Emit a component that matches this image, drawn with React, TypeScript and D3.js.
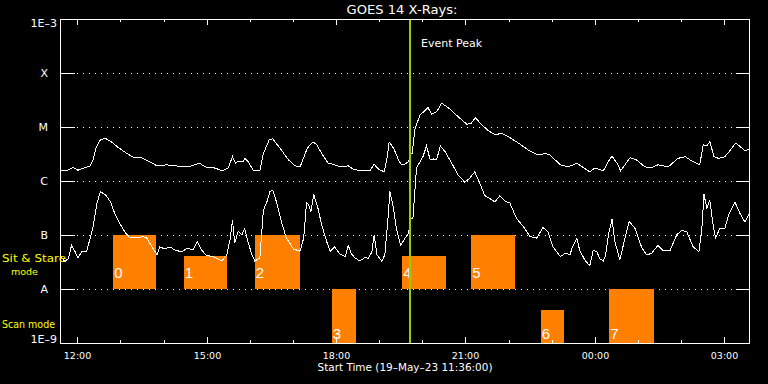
import React from "react";
import * as d3 from "d3";

const START = Date.UTC(2023, 4, 19, 11, 36, 0);
const SPAN_HOURS = 16;

// GOES long channel (1-8 Å): [minutes after start, log10 flux W/m²]
const longChannel: [number, number][] = [
  [0,-5.80],[9,-5.81],[18,-5.75],[25,-5.80],[35,-5.75],[42,-5.72],[46,-5.61],[50,-5.39],[56,-5.24],[63,-5.21],
  [70,-5.26],[81,-5.38],[93,-5.49],[102,-5.56],[114,-5.57],[123,-5.63],[135,-5.72],[148,-5.70],[162,-5.72],[172,-5.74],
  [183,-5.72],[194,-5.67],[202,-5.74],[213,-5.75],[226,-5.81],[234,-5.76],[240,-5.55],[244,-5.67],[248,-5.63],[255,-5.63],
  [257,-5.58],[262,-5.64],[269,-5.81],[278,-5.81],[283,-5.49],[291,-5.24],[296,-5.22],[306,-5.39],[318,-5.61],[327,-5.72],
  [334,-5.74],[343,-5.43],[346,-5.36],[352,-5.28],[357,-5.32],[364,-5.49],[373,-5.67],[380,-5.69],[390,-5.74],[401,-5.72],
  [408,-5.78],[417,-5.81],[431,-5.81],[437,-5.69],[443,-5.78],[451,-5.83],[455,-5.58],[458,-5.28],[464,-5.39],[471,-5.61],
  [475,-5.70],[480,-5.69],[485,-5.64],[488,-5.49],[490,-5.49],[494,-5.02],[501,-4.78],[512,-4.64],[517,-4.76],[524,-4.72],
  [531,-4.56],[540,-4.64],[554,-4.81],[566,-4.95],[572,-4.93],[578,-4.83],[587,-4.96],[596,-5.07],[605,-5.14],[615,-5.12],
  [624,-5.18],[638,-5.30],[652,-5.43],[661,-5.49],[665,-5.52],[675,-5.49],[682,-5.52],[696,-5.70],[707,-5.74],[719,-5.67],
  [728,-5.75],[737,-5.83],[744,-5.76],[756,-5.81],[763,-5.64],[768,-5.54],[775,-5.67],[780,-5.81],[786,-5.70],[793,-5.57],
  [802,-5.61],[814,-5.74],[823,-5.75],[832,-5.70],[846,-5.74],[860,-5.58],[870,-5.55],[879,-5.63],[890,-5.70],[895,-5.33],
  [900,-5.35],[904,-5.27],[910,-5.55],[916,-5.58],[925,-5.55],[932,-5.44],[940,-5.30],[946,-5.36],[953,-5.44],[960,-5.41],
];

// GOES short channel (0.5-4 Å)
const shortChannel: [number, number][] = [
  [0,-7.39],[7,-7.49],[12,-7.43],[16,-7.19],[21,-7.31],[25,-7.43],[30,-7.31],[37,-7.30],[42,-7.06],[46,-6.85],
  [51,-6.44],[56,-6.20],[63,-6.25],[70,-6.38],[77,-6.63],[83,-6.78],[90,-6.94],[97,-7.05],[107,-7.05],[116,-7.03],
  [121,-7.06],[128,-7.22],[135,-7.36],[139,-7.22],[146,-7.26],[153,-7.22],[160,-7.28],[169,-7.31],[178,-7.24],[185,-7.28],
  [191,-7.12],[197,-7.28],[204,-7.38],[213,-7.40],[225,-7.48],[232,-7.37],[237,-7.06],[240,-6.72],[243,-7.15],[248,-6.93],
  [253,-7.00],[257,-6.88],[262,-7.15],[267,-7.36],[271,-7.48],[278,-7.43],[283,-6.54],[288,-6.38],[292,-6.20],[296,-6.17],
  [301,-6.38],[308,-6.75],[315,-7.06],[325,-7.26],[334,-7.30],[339,-7.06],[343,-6.41],[346,-6.44],[349,-6.57],[353,-6.25],
  [359,-6.51],[364,-6.81],[371,-7.12],[376,-7.30],[382,-7.22],[390,-7.36],[397,-7.40],[401,-7.19],[405,-7.34],[410,-7.42],
  [417,-7.48],[424,-7.42],[429,-7.43],[434,-7.31],[437,-7.00],[441,-7.37],[448,-7.49],[452,-7.36],[456,-6.75],[459,-6.19],
  [464,-6.51],[468,-6.88],[474,-7.19],[480,-7.06],[485,-6.97],[488,-6.69],[491,-6.69],[496,-5.76],[501,-5.64],[505,-5.55],
  [510,-5.35],[515,-5.61],[519,-5.59],[524,-5.61],[529,-5.35],[536,-5.46],[545,-5.67],[554,-5.89],[563,-6.02],[570,-5.95],
  [577,-5.83],[584,-6.04],[591,-6.27],[601,-6.35],[605,-6.39],[612,-6.27],[619,-6.37],[626,-6.41],[635,-6.69],[645,-6.85],
  [654,-7.03],[663,-7.06],[672,-6.86],[679,-6.94],[686,-7.22],[696,-7.40],[703,-7.34],[710,-7.36],[712,-7.25],[719,-7.06],
  [723,-7.28],[730,-7.46],[737,-7.57],[742,-7.28],[747,-7.31],[751,-7.44],[756,-7.48],[759,-7.38],[763,-7.00],[768,-6.71],
  [772,-7.12],[779,-7.46],[785,-7.12],[792,-6.75],[800,-6.88],[809,-7.22],[816,-7.37],[823,-7.34],[832,-7.19],[839,-7.29],
  [849,-7.28],[858,-7.00],[865,-6.91],[872,-6.94],[881,-7.22],[889,-7.31],[893,-6.88],[896,-6.25],[900,-6.51],[904,-6.35],
  [908,-6.75],[912,-7.06],[918,-6.88],[925,-6.88],[931,-6.60],[939,-6.39],[946,-6.60],[953,-6.76],[960,-6.57],
];

// Observation blocks: start/end (minutes after start), mode, top (log10 flux)
const blockIds = ["0", "1", "2", "3", "4", "5", "6", "7"];
const blockStart = [74, 172, 271, 378, 476, 572, 669, 764];
const blockEnd = [134, 233, 334, 412, 537, 633, 701, 826];
const blockMode = ["stare", "stare", "stare", "scan", "stare", "stare", "scan", "scan"];
const blockTop = [-7, -7.39, -7, -8, -7.39, -7, -8.39, -8];

const classLevels = [-4, -5, -6, -7, -8];
const classLabels = ["X", "M", "C", "B", "A"];
const edgeLabels = ["1E-3", "1E-9"];

const eventPeakMin = 487;
const titleText = "GOES 14 X-Rays:";
const xTitle = "Start Time (19-May-23 11:36:00)";

const W = 768, H = 384;
const L = 60, R = 750, T = 19, B = 343;

export default function App() {
  const t = (m: number) => new Date(START + m * 60000);
  const x = d3.scaleUtc().domain([t(0), t(SPAN_HOURS * 60)]).range([L, R]);
  const y = d3.scaleLog().domain([1e-9, 1e-3]).range([B, T]);
  const line = d3
    .line<[number, number]>()
    .x((d) => x(t(d[0])))
    .y((d) => y(Math.pow(10, d[1])));

  const hourTicks = x.ticks(d3.utcHour.every(1)!);
  const font = "DejaVu Sans, sans-serif";
  const fmt = d3.utcFormat("%H:%M");

  return (
    <svg
      width={W}
      height={H}
      style={{ position: "fixed", left: 0, top: 0, background: "#000" }}
      fontFamily={font}
    >
      <rect x={0} y={0} width={W} height={H} fill="#000" />
      {/* grid lines */}
      {classLevels.map((lv) => {
        const yy = Math.round(y(Math.pow(10, lv))) + 0.5;
        return (
          <g key={lv} shapeRendering="crispEdges">
            <line x1={L} x2={75} y1={yy} y2={yy} stroke="#fff" strokeWidth={1} />
            <line x1={77} x2={735} y1={yy} y2={yy} stroke="#fff" strokeWidth={1} strokeDasharray="1,5" />
            <line x1={736} x2={R} y1={yy} y2={yy} stroke="#fff" strokeWidth={1} />
          </g>
        );
      })}
      {/* blocks */}
      {blockIds.map((id, i) => {
        const x0 = x(t(blockStart[i]));
        const x1 = x(t(blockEnd[i]));
        const bottom = blockMode[i] === "stare" ? -8 : -9;
        const y0 = y(Math.pow(10, blockTop[i]));
        const y1 = y(Math.pow(10, bottom));
        return (
          <g key={id}>
            <rect x={x0} y={y0} width={x1 - x0} height={y1 - y0} fill="#ff8000" shapeRendering="crispEdges" />
            <text
              x={x0 + 1}
              y={blockMode[i] === "stare" ? y1 - 11 : y1 - 4}
              fill="#fff"
              fontSize={15}
              fontFamily="Liberation Sans, sans-serif"
            >
              {id}
            </text>
          </g>
        );
      })}
      {/* curves */}
      <path d={line(longChannel) || ""} fill="none" stroke="#fff" strokeWidth={1} shapeRendering="crispEdges" />
      <path d={line(shortChannel) || ""} fill="none" stroke="#fff" strokeWidth={1} shapeRendering="crispEdges" />
      {/* event peak */}
      <line
        x1={x(t(eventPeakMin))}
        x2={x(t(eventPeakMin))}
        y1={T}
        y2={B}
        stroke="#99cc00"
        strokeWidth={2}
        shapeRendering="crispEdges"
      />
      <text x={421} y={46.5} fill="#fff" fontSize={11}>
        Event Peak
      </text>
      {/* frame */}
      <rect x={L + 0.5} y={T + 0.5} width={R - L - 1} height={B - T} fill="none" stroke="#fff" strokeWidth={1} shapeRendering="crispEdges" />
      {/* x ticks */}
      {hourTicks.map((d, i) => {
        const xx = Math.round(x(d)) + 0.5;
        const major = d.getUTCHours() % 3 === 0;
        const len = major ? 6 : 3;
        return (
          <g key={i} shapeRendering="crispEdges">
            <line x1={xx} x2={xx} y1={B} y2={B - len} stroke="#fff" />
            <line x1={xx} x2={xx} y1={T} y2={T + len} stroke="#fff" />
            {major && (
              <text x={xx} y={359} fill="#fff" fontSize={9.5} textAnchor="middle">
                {fmt(d)}
              </text>
            )}
          </g>
        );
      })}
      {/* y labels */}
      {classLevels.map((lv, i) => (
        <text key={lv} x={48} y={y(Math.pow(10, lv)) + 4} fill="#fff" fontSize={11} textAnchor="end">
          {classLabels[i]}
        </text>
      ))}
      <text x={57} y={27} fill="#fff" fontSize={11} textAnchor="end">
        {edgeLabels[0].replace("-", "\u2013")}
      </text>
      <text x={57} y={343} fill="#fff" fontSize={11} textAnchor="end">
        {edgeLabels[1].replace("-", "\u2013")}
      </text>
      {/* mode labels */}
      <text x={2} y={262} fill="#ffff00" fontSize={10} textLength={64} lengthAdjust="spacingAndGlyphs">
        Sit &amp; Stare
      </text>
      <text x={11} y={275} fill="#ffff00" fontSize={9.5}>
        mode
      </text>
      <text x={2} y={328} fill="#ffff00" fontSize={10} textLength={53} lengthAdjust="spacingAndGlyphs">
        Scan mode
      </text>
      {/* titles */}
      <text x={402} y={14} fill="#fff" fontSize={12.5} textAnchor="middle" textLength={111} lengthAdjust="spacingAndGlyphs">
        {titleText}
      </text>
      <text x={405} y={371} fill="#fff" fontSize={10} textAnchor="middle" textLength={175} lengthAdjust="spacingAndGlyphs">
        {xTitle.replace("-May-", "\u2013May\u2013")}
      </text>
    </svg>
  );
}
